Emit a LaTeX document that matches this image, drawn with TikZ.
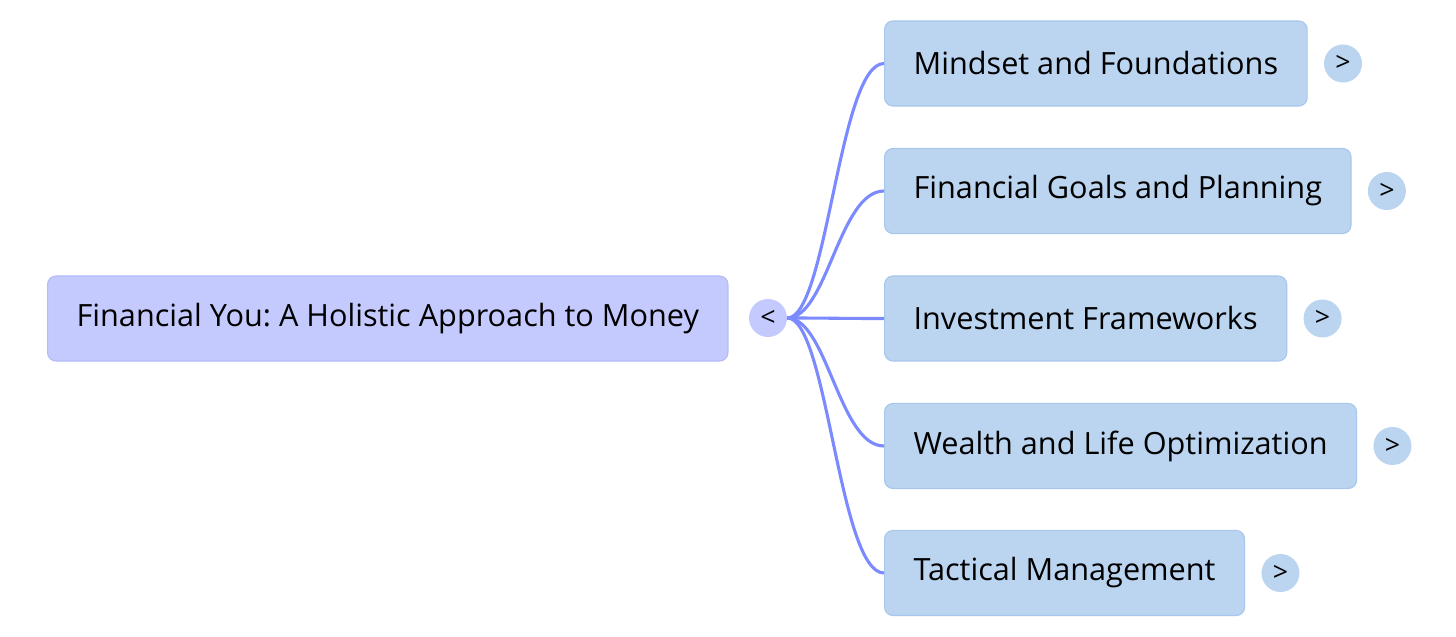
\documentclass[tikz,border=0pt]{standalone}
\usepackage{fontspec}
\setmainfont{Open Sans}
\usepackage{xcolor}
\usepackage{tikz}
\usetikzlibrary{positioning}
\frenchspacing

\definecolor{rootfill}{HTML}{C4CAFE}
\definecolor{rootline}{HTML}{B3BBF8}
\definecolor{topicfill}{HTML}{BBD4F0}
\definecolor{topicline}{HTML}{A8C7EE}
\definecolor{linkblue}{HTML}{7B8BFF}

\begin{document}
\begin{tikzpicture}[x=0.025cm, y=-0.025cm, font=\fontsize{21.8}{26}\selectfont,
    rootbox/.style={rectangle, rounded corners=6pt, draw=rootline, fill=rootfill, line width=0.8pt, minimum height=2.125cm, inner xsep=0.725cm, anchor=west},
    topicbox/.style={rectangle, rounded corners=6pt, draw=topicline, fill=topicfill, line width=0.8pt, minimum height=2.125cm, inner xsep=0.725cm, anchor=west},
    toggle/.style={circle, fill=topicfill, minimum size=0.95cm, inner sep=0pt, font=\fontsize{19}{22}\selectfont},
    link/.style={draw=linkblue, line width=2.2pt}]
    \useasboundingbox (0,0) rectangle (1456,637);

    \node[rootbox] (root) at (47,318.5) {Financial You: A Holistic Approach to Money};
    \node[toggle, fill=rootfill] (fold) at (768,318) {<};

    \node[topicbox] (mindset) at (884,63.5) {Mindset and Foundations};
    \node[topicbox] (goals) at (884,191) {Financial Goals and Planning};
    \node[topicbox] (invest) at (884,318.5) {Investment Frameworks};
    \node[topicbox] (wealth) at (884,446) {Wealth and Life Optimization};
    \node[topicbox] (tactics) at (884,573) {Tactical Management};

    \node[toggle, right=0.4cm of mindset] (mindsetmore) {>};
    \node[toggle, right=0.4cm of goals] (goalsmore) {>};
    \node[toggle, right=0.4cm of invest] (investmore) {>};
    \node[toggle, right=0.4cm of wealth] (wealthmore) {>};
    \node[toggle, right=0.4cm of tactics] (tacticsmore) {>};

    \foreach \topic in {mindset, goals, invest, wealth, tactics}
        \draw[link] (fold.east) .. controls +(40,0) and +(-45,0) .. (\topic.west);
\end{tikzpicture}
\end{document}
